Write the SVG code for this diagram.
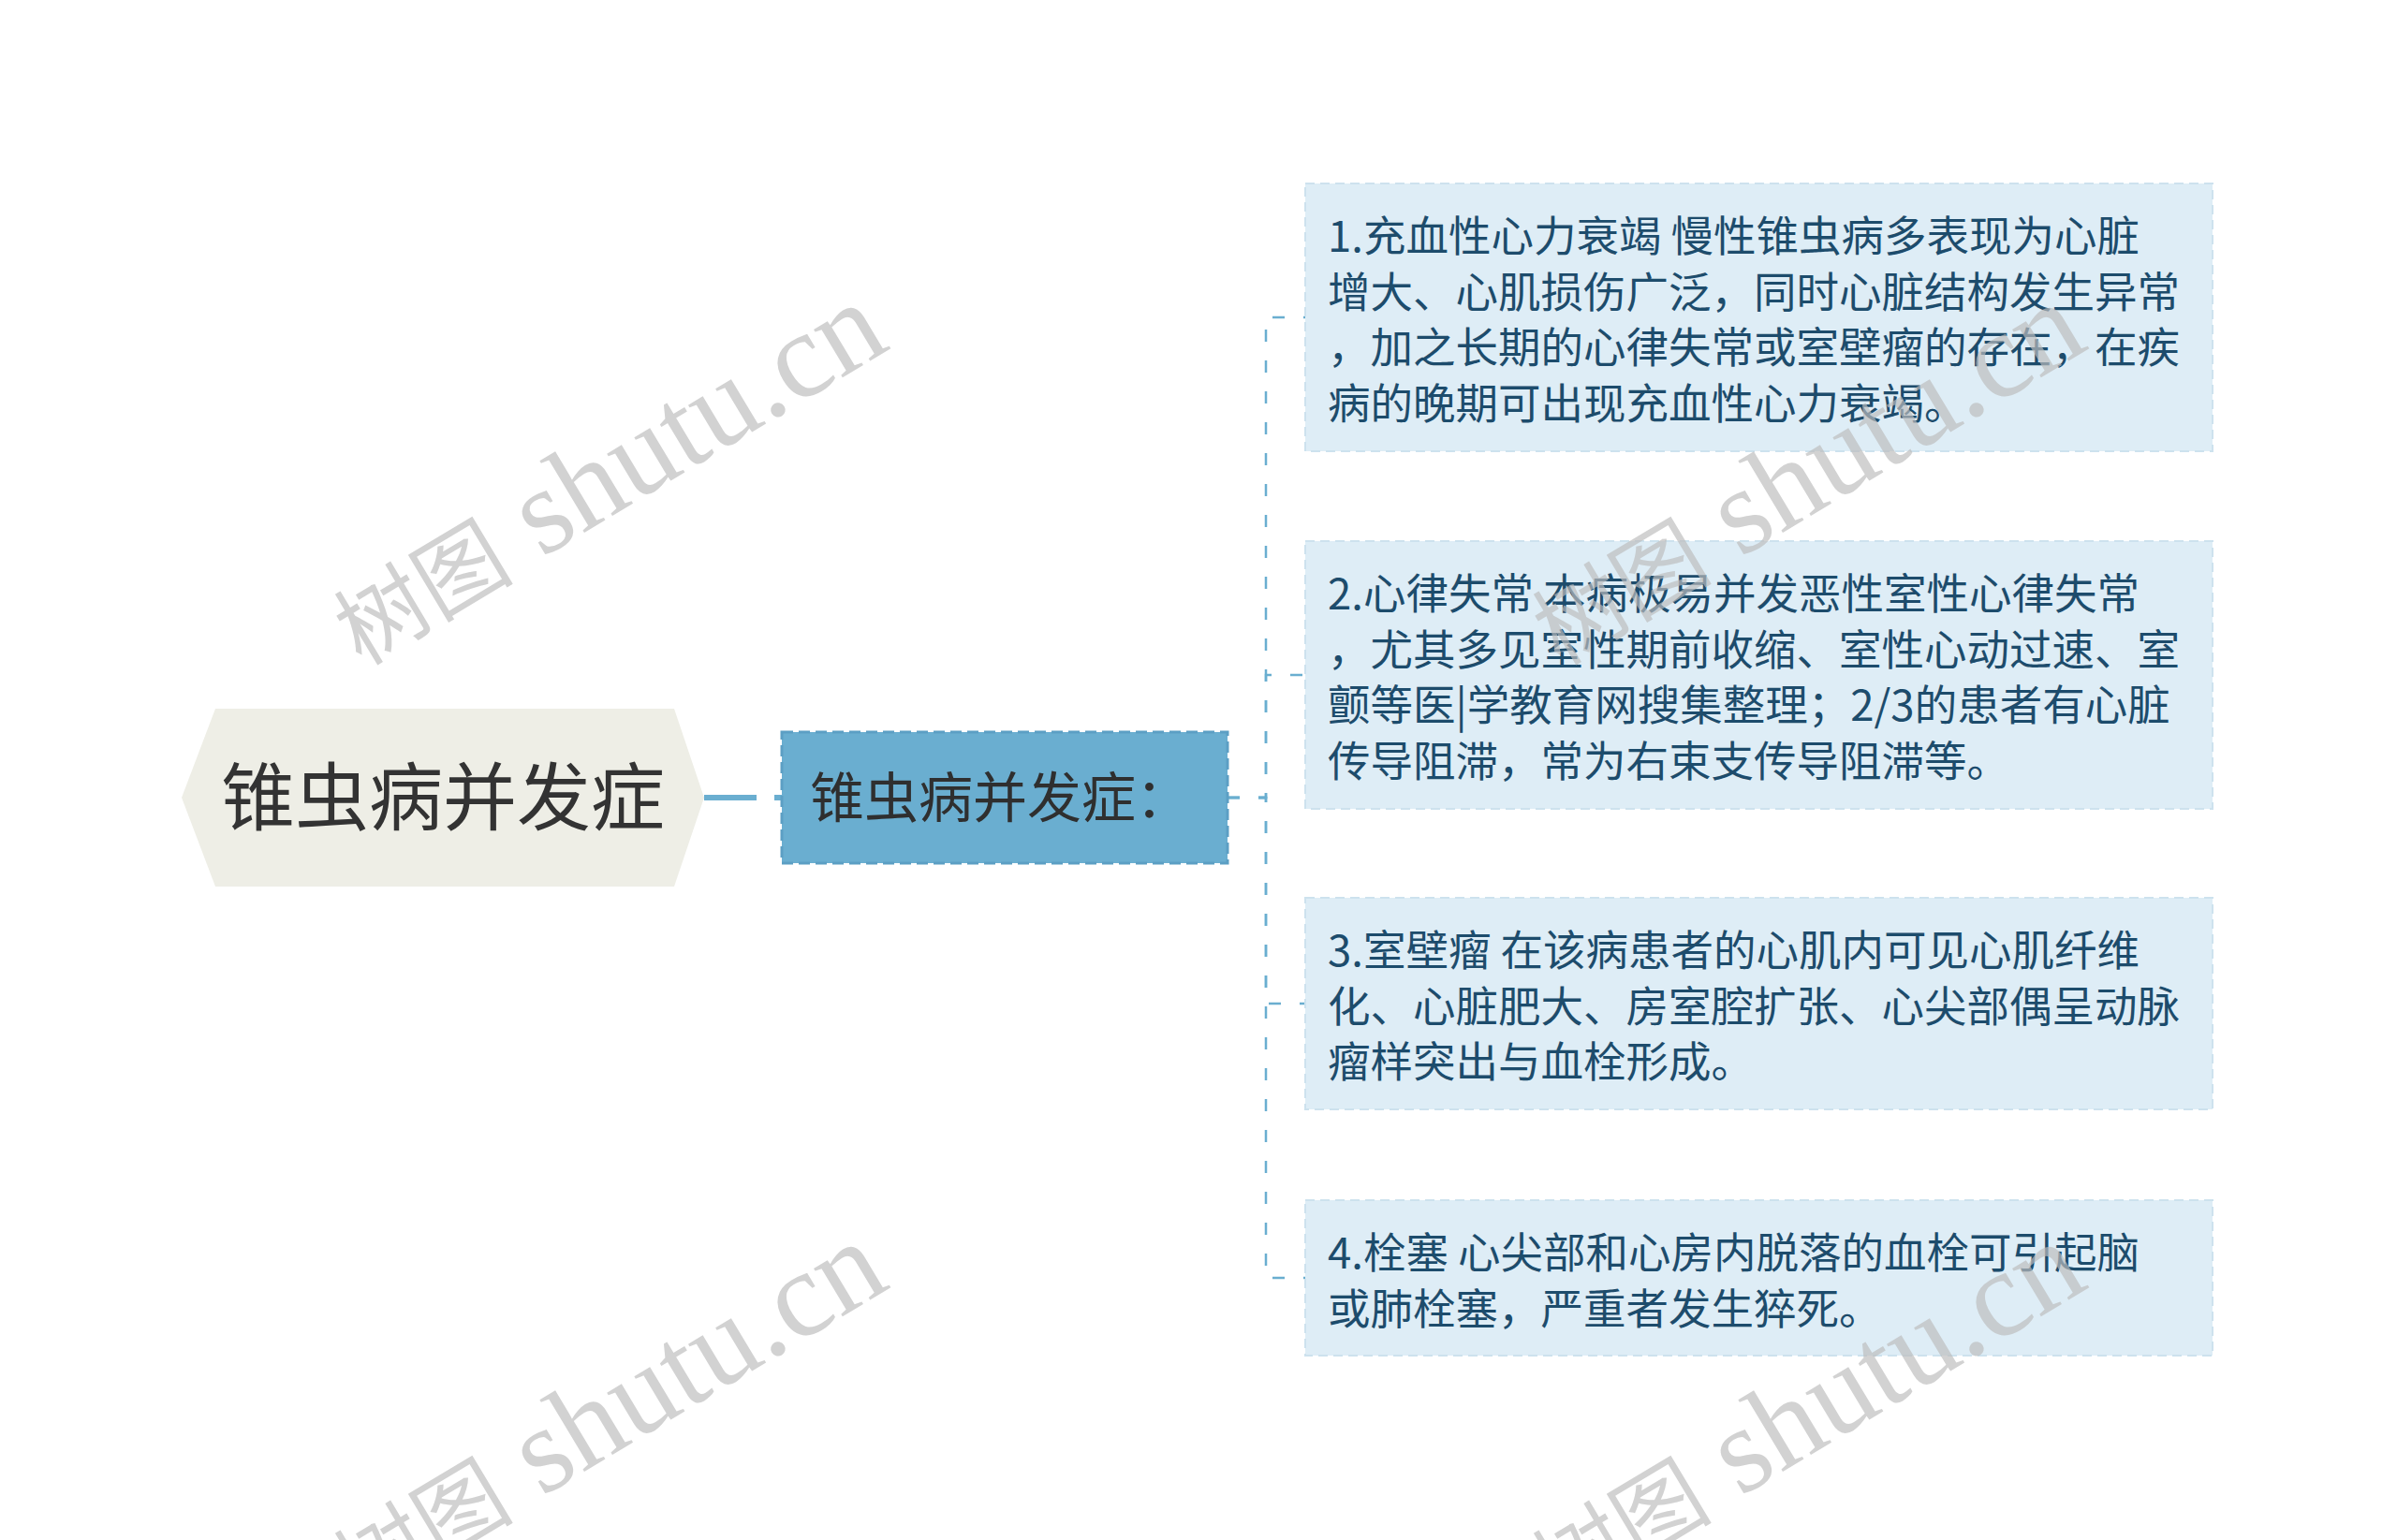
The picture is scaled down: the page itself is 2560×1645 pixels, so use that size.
<svg xmlns="http://www.w3.org/2000/svg" width="2560" height="1645" viewBox="0 0 2560 1645">
<style>
.cjk{font-family:"Noto Sans CJK SC","Noto Sans",sans-serif;}
.root-t{font-size:79px;fill:#333333;}
.mid-t{font-size:58px;fill:#2f2f2f;}
.leaf{fill:#deedf6;stroke:#cde2ee;stroke-width:2;stroke-dasharray:10 6;}
.leaf-t{font-size:45.5px;fill:#1d4c6c;}
.conn{fill:none;stroke:#6aaed0;stroke-width:2.5;stroke-dasharray:13 20;}
.wm{font-family:"Liberation Serif","Noto Sans CJK SC",serif;font-size:130px;fill:#bdbdbd;opacity:0.68;}
.wmc{font-size:96px;}
</style>
<rect width="2560" height="1645" fill="#ffffff"/>
<g id="connectors">
<path d="M752,852 H835" stroke="#6aaed0" stroke-width="6" stroke-dasharray="56 19" fill="none"/>
<path class="conn" d="M1311,852 H1352 V339 H1394"/>
<path class="conn" d="M1311,852 H1352 V721 H1394"/>
<path class="conn" d="M1311,852 H1352 V1072 H1394"/>
<path class="conn" d="M1311,852 H1352 V1365 H1394"/>
</g>
<g id="root">
<polygon points="194,852 230,757 720,757 752,852 720,947 230,947" fill="#eeeee6"/>
<text class="cjk root-t" x="473" y="881" text-anchor="middle">锥虫病并发症</text>
</g>
<g id="middle">
<rect x="835" y="782" width="476" height="140" fill="#6aaed0" stroke="#5c9fc4" stroke-width="3" stroke-dasharray="12 6"/>
<text class="cjk mid-t" x="865" y="873">锥虫病并发症：</text>
</g>
<g id="leaf1">
<rect class="leaf" x="1394" y="196" width="969" height="286"/>
<text class="cjk leaf-t">
<tspan x="1418" y="269">1.充血性心力衰竭 慢性锥虫病多表现为心脏</tspan>
<tspan x="1418" y="328.5">增大、心肌损伤广泛，同时心脏结构发生异常</tspan>
<tspan x="1418" y="388">，加之长期的心律失常或室壁瘤的存在，在疾</tspan>
<tspan x="1418" y="447.5">病的晚期可出现充血性心力衰竭。</tspan>
</text>
</g>
<g id="leaf2">
<rect class="leaf" x="1394" y="578" width="969" height="286"/>
<text class="cjk leaf-t">
<tspan x="1418" y="651">2.心律失常 本病极易并发恶性室性心律失常</tspan>
<tspan x="1418" y="710.5">，尤其多见室性期前收缩、室性心动过速、室</tspan>
<tspan x="1418" y="770">颤等医|学教育网搜集整理；2/3的患者有心脏</tspan>
<tspan x="1418" y="829.5">传导阻滞，常为右束支传导阻滞等。</tspan>
</text>
</g>
<g id="leaf3">
<rect class="leaf" x="1394" y="959" width="969" height="226"/>
<text class="cjk leaf-t">
<tspan x="1418" y="1032">3.室壁瘤 在该病患者的心肌内可见心肌纤维</tspan>
<tspan x="1418" y="1091.5">化、心脏肥大、房室腔扩张、心尖部偶呈动脉</tspan>
<tspan x="1418" y="1151">瘤样突出与血栓形成。</tspan>
</text>
</g>
<g id="leaf4">
<rect class="leaf" x="1394" y="1282" width="969" height="166"/>
<text class="cjk leaf-t">
<tspan x="1418" y="1355">4.栓塞 心尖部和心房内脱落的血栓可引起脑</tspan>
<tspan x="1418" y="1414.5">或肺栓塞，严重者发生猝死。</tspan>
</text>
</g>
<g id="watermarks">
<text class="wm" transform="translate(386,712) rotate(-31)"><tspan class="wmc">树图</tspan> shutu.cn</text>
<text class="wm" transform="translate(386,1715) rotate(-31)"><tspan class="wmc">树图</tspan> shutu.cn</text>
<text class="wm" transform="translate(1666,712) rotate(-31)"><tspan class="wmc">树图</tspan> shutu.cn</text>
<text class="wm" transform="translate(1666,1715) rotate(-31)"><tspan class="wmc">树图</tspan> shutu.cn</text>
</g>
</svg>
